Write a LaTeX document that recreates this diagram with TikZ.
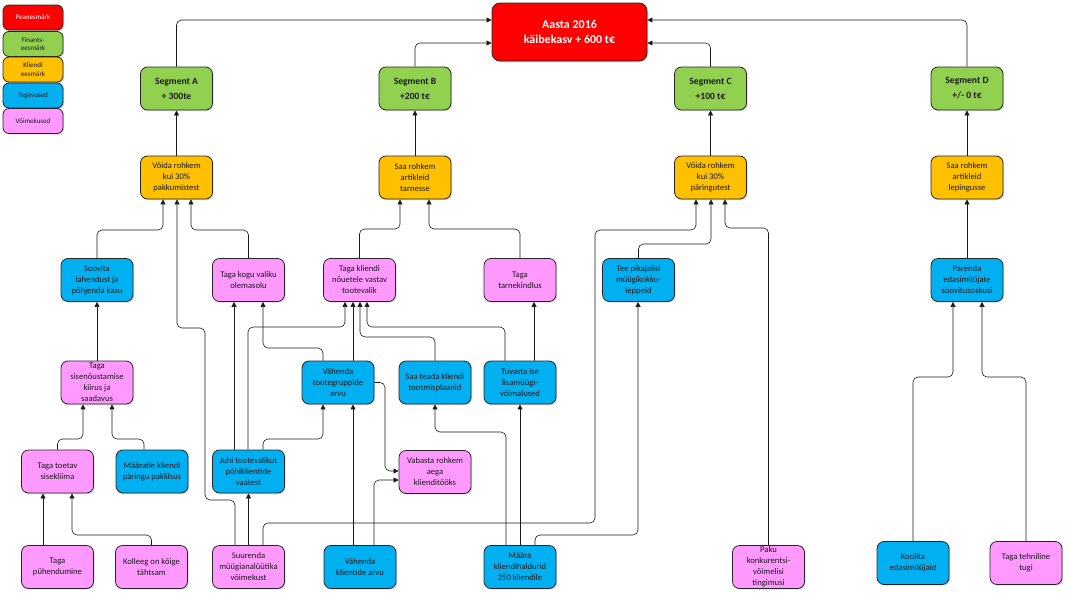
\documentclass[tikz,border=0pt]{standalone}
\usepackage{fontspec}
\setmainfont{Carlito}
\usetikzlibrary{arrows.meta,shadows}
\definecolor{cred}{HTML}{FF0000}
\definecolor{cgreen}{HTML}{92D050}
\definecolor{cyel}{HTML}{FFC000}
\definecolor{cblue}{HTML}{00B0F0}
\definecolor{cpink}{HTML}{FF99FF}
\pgfdeclarelayer{bg}
\pgfsetlayers{bg,main}
\begin{document}
\begin{tikzpicture}[x=1pt,y=-1pt,
  nbox/.style={draw=black!85, line width=0.8pt, rounded corners=7pt,
    minimum width=72pt, minimum height=43pt, inner sep=1pt, align=center,
    font=\fontsize{8.6}{11}\selectfont, text=black!90,
    drop shadow={shadow xshift=1.2pt,shadow yshift=-1.2pt,opacity=0.3}},
  pk/.style={nbox, fill=cpink},
  bl/.style={nbox, fill=cblue},
  ye/.style={nbox, fill=cyel},
  gr/.style={nbox, fill=cgreen, font=\bfseries\fontsize{9.6}{15}\selectfont},
  lg/.style={nbox, minimum width=60pt, minimum height=25pt, rounded corners=6pt,
    font=\fontsize{7}{8.5}\selectfont},
  conn/.style={draw=black!90, line width=0.6pt, rounded corners=5pt,
    -{Triangle[length=5pt,width=5pt]}}
]
\useasboundingbox (0,0) rectangle (1070,597);

% legend
\node[lg, fill=cred, text=white] (l1) at (33,17.5) {Peaeesmärk};
\node[lg, fill=cgreen] (l2) at (33,44) {Finants-\\eesmärk};
\node[lg, fill=cyel] (l3) at (33,69.5) {Kliendi\\eesmärk};
\node[lg, fill=cblue] (l4) at (33,95.5) {Tegevused};
\node[lg, fill=cpink] (l5) at (33,121) {Võimekused};

% main goal
\node[nbox, fill=cred, minimum width=155pt, minimum height=58pt, text=white,
  font=\bfseries\fontsize{12}{15}\selectfont, rounded corners=8pt] (red) at (569.5,32)
  {Aasta 2016\\käibekasv + 600 t€};

% segments
\node[gr] (segA) at (176.5,88.5) {Segment A\\+ 300te};
\node[gr] (segB) at (415,88.5) {Segment B\\+200 t€};
\node[gr] (segC) at (710.5,88.5) {Segment C\\+100 t€};
\node[gr] (segD) at (967,88.5) {Segment D\\+/- 0 t€};

% customer goals
\node[ye] (yA) at (176.5,177.5) {Võida rohkem\\kui 30\%\\pakkumistest};
\node[ye] (yB) at (415,177.5) {Saa rohkem\\artikleid\\tarnesse};
\node[ye] (yC) at (710.5,177.5) {Võida rohkem\\kui 30\%\\päringutest};
\node[ye] (yD) at (967,177.5) {Saa rohkem\\artikleid\\lepingusse};

% row 3
\node[bl] (soov) at (97,280) {Soovita\\lahendust ja\\põhjenda kasu};
\node[pk] (kogu) at (248.5,280) {Taga kogu valiku\\olemasolu};
\node[pk] (kliendi) at (359.5,280) {Taga kliendi\\nõuetele vastav\\tootevalik};
\node[pk] (tarne) at (520,280) {Taga\\tarnekindlus};
\node[bl] (tee) at (638.5,280) {Tee pikajalisi\\müügikokku-\\leppeid};
\node[bl] (parenda) at (967,280) {Parenda\\edasimüüjate\\soovitusoskusi};

% row 4
\node[pk] (sise) at (97,382.5) {Taga\\sisenõustamise\\kiirus ja\\saadavus};
\node[bl] (vtoot) at (338,382.5) {Vähenda\\tootegruppide\\arvu};
\node[bl] (saateada) at (435,382.5) {Saa teada kliendi\\tootmisplaanid};
\node[bl] (tuvasta) at (520,382.5) {Tuvasta ise\\lisamüügi-\\võimalused};

% row 5
\node[pk] (toetav) at (57.5,471.5) {Taga toetav\\sisekliima};
\node[bl] (maaratle) at (152,471.5) {Määratle kliendi\\päringu paklilsus};
\node[bl] (juhi) at (248.5,471.5) {Juhi tootevalikut\\põhiklientide\\vaatest};
\node[pk] (vabasta) at (435,472) {Vabasta rohkem\\aega\\klienditööks};

% row 6
\node[pk] (pyhend) at (57.5,567) {Taga\\pühendumine};
\node[pk] (kolleeg) at (151.5,567) {Kolleeg on kõige\\tähtsam};
\node[pk] (suur) at (248.5,567) {Suurenda\\müügianalüütika\\võimekust};
\node[bl] (vklient) at (360,567) {Vähenda\\klientide arvu};
\node[bl] (maara) at (520,567) {Määra\\kliendihaldurid\\250 kliendile};
\node[pk] (paku) at (768.5,567) {Paku\\konkurentsi-\\võimelisi\\tingimusi};
\node[bl] (koolita) at (913,563) {Koolita\\edasimüüjaid};
\node[pk] (tehn) at (1026,563) {Taga tehniline\\tugi};

\begin{pgfonlayer}{bg}
% segments to main goal
\draw[conn] (segA.north) |- (red.west |- 0,20);
\draw[conn] (segB.north) |- (red.west |- 0,43);
\draw[conn] (segC.north) |- (red.east |- 0,43);
\draw[conn] (segD.north) |- (red.east |- 0,20);
% customer goals to segments
\draw[conn] (yA.north) -- (segA.south);
\draw[conn] (yB.north) -- (segB.south);
\draw[conn] (yC.north) -- (segC.south);
\draw[conn] (yD.north) -- (segD.south);
% into yA
\draw[conn] (soov.north) |- (163,230) -- (yA.south -| 163,0);
\draw[conn] (suur.north -| 235,0) |- (205,500) |- (177,328) -- (yA.south -| 177,0);
\draw[conn] (kogu.north) |- (191,230) -- (yA.south -| 191,0);
% into kogu
\draw[conn] (juhi.north -| 234,0) -- (kogu.south -| 234,0);
\draw[conn] (vtoot.north -| 323,0) |- (263,348) -- (kogu.south -| 263,0);
% into kliendi
\draw[conn] (juhi.north -| 248,0) |- (345,327) -- (kliendi.south -| 345,0);
\draw[conn] (vtoot.north -| 353,0) -- (kliendi.south -| 353,0);
\draw[conn] (saateada.north) |- (360,337) -- (kliendi.south -| 360,0);
\draw[conn] (tuvasta.north -| 505,0) |- (367,327) -- (kliendi.south -| 367,0);
% into yB
\draw[conn] (kliendi.north) |- (400,229) -- (yB.south -| 400,0);
\draw[conn] (tarne.north) |- (429,229) -- (yB.south -| 429,0);
% tarne, tuvasta, saateada, tee
\draw[conn] (tuvasta.north -| 534,0) -- (tarne.south -| 534,0);
\draw[conn] (maara.north) -- (tuvasta.south);
\draw[conn] (maara.north -| 506,0) |- (435,432) -- (saateada.south);
\draw[conn] (maara.north -| 535,0) |- (638,535) -- (tee.south -| 638,0);
% into yC
\draw[conn] (suur.north -| 263,0) |- (595,523) |- (696,230) -- (yC.south -| 696,0);
\draw[conn] (tee.north) |- (711,244) -- (yC.south -| 711,0);
\draw[conn] (paku.north) |- (725,228) -- (yC.south -| 725,0);
% into vabasta
\draw[conn] (vtoot.east) -- (385,382.5) |- (vabasta.west |- 0,471);
\draw[conn] (vklient.north -| 374,0) |- (vabasta.west |- 0,480);
% into vtoot
\draw[conn] (juhi.north -| 263,0) |- (323,439) -- (vtoot.south -| 323,0);
\draw[conn] (vklient.north -| 353,0) -- (vtoot.south -| 353,0);
% into juhi
\draw[conn] (suur.north) -- (juhi.south);
% left branch
\draw[conn] (toetav.north) |- (83,439) -- (sise.south -| 83,0);
\draw[conn] (maaratle.north -| 144,0) |- (112,439) -- (sise.south -| 112,0);
\draw[conn] (sise.north) -- (soov.south);
\draw[conn] (pyhend.north -| 43,0) -- (toetav.south -| 43,0);
\draw[conn] (kolleeg.north) |- (72,535) -- (toetav.south -| 72,0);
% segment D branch
\draw[conn] (koolita.north) |- (953,377) -- (parenda.south -| 953,0);
\draw[conn] (tehn.north) |- (982,377) -- (parenda.south -| 982,0);
\draw[conn] (parenda.north) -- (yD.south);
\end{pgfonlayer}
\end{tikzpicture}
\end{document}
